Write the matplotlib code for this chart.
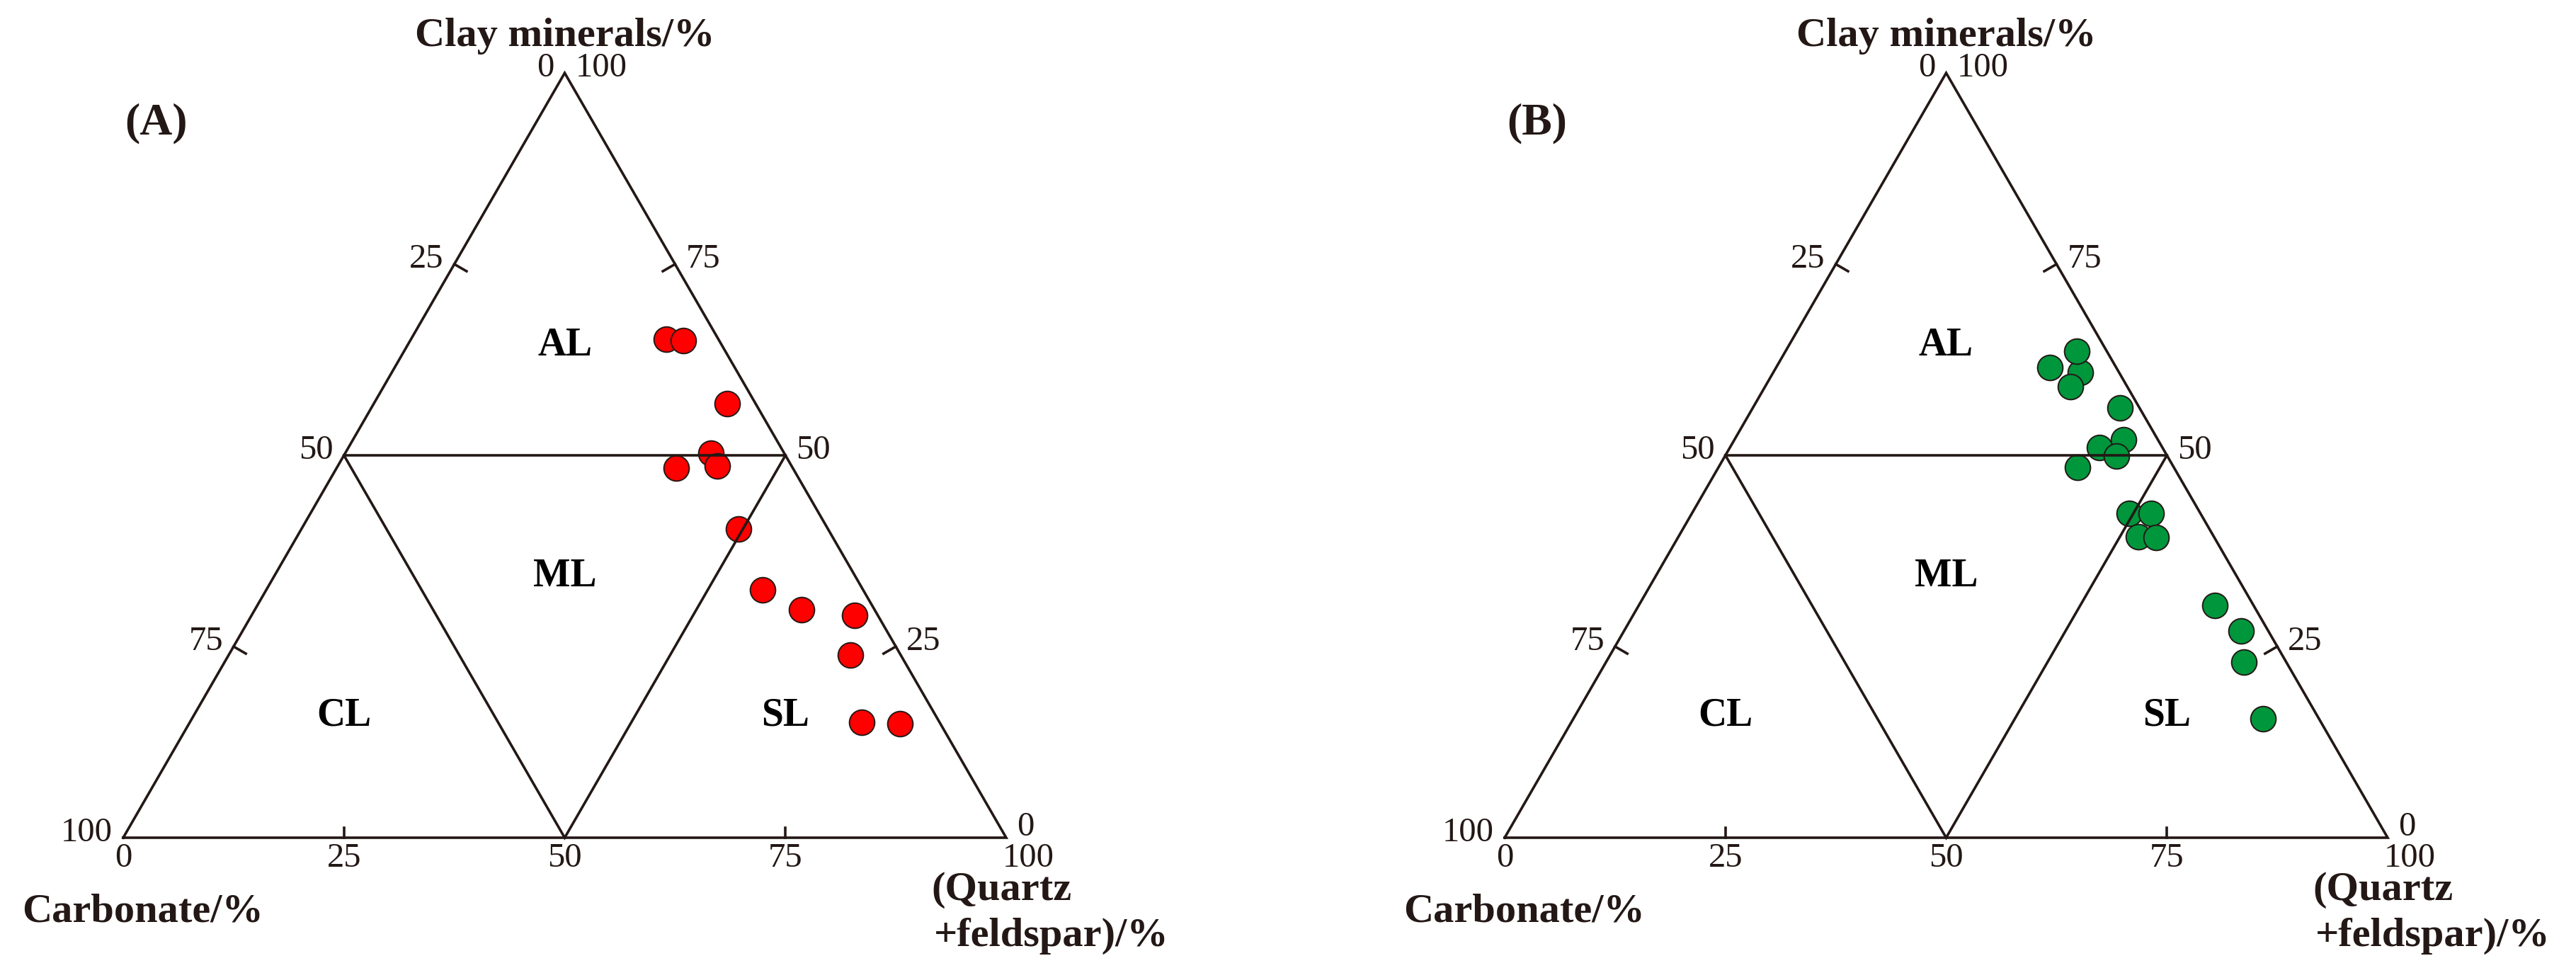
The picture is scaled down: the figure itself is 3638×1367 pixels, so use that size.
import matplotlib.pyplot as plt
import numpy as np

plt.rcParams['font.family'] = ['Liberation Serif', 'DejaVu Serif']

# (A) red samples: clay minerals / (quartz+feldspar), %; carbonate is the rest
clay_a = [65.2, 65.0, 56.8, 50.3, 48.3, 48.6, 40.4, 32.4, 29.8, 29.1, 23.9, 15.1, 14.9]
qf_a = [28.9, 30.9, 40.0, 41.4, 38.5, 43.0, 49.5, 56.2, 61.9, 68.3, 70.4, 76.1, 80.5]

# (B) green samples
clay_b = [60.8, 63.6, 61.5, 59.0, 56.2, 52.0, 51.0, 49.9, 48.4, 42.4, 42.4, 39.4, 39.3,
          30.4, 27.0, 23.0, 15.6]
qf_b = [34.8, 33.0, 31.0, 34.6, 41.6, 44.1, 41.9, 44.3, 40.7, 49.5, 52.0, 52.1, 54.1,
        65.2, 69.9, 72.2, 78.1]

tick_vals = [0, 25, 50, 75, 100]
region_names = ['AL', 'ML', 'CL', 'SL']
region_pos = [(0.5, 0.557), (0.5, 0.296), (0.25, 0.138), (0.75, 0.138)]

INK = '#231815'
H = np.sqrt(3) / 2
FW, FH = 3638, 1367
W = 1247      # triangle side in pixels
BASE = 1183   # triangle base, pixels from top
LW = 2.6


def to_xy(clay, qf):
    clay = np.asarray(clay, dtype=float) / 100.0
    qf = np.asarray(qf, dtype=float) / 100.0
    return qf + 0.5 * clay, H * clay


def panel(x0, xl, clay, qf, color, tag):
    ax = fig.add_axes([x0 / FW, 0, (FW / 2) / FW, 1])
    ax.set_xlim((x0 - xl) / W, (x0 + FW / 2 - xl) / W)
    ax.set_ylim(-(FH - BASE) / W, BASE / W)
    ax.axis('off')

    # frame + lithofacies division lines (drawn over the symbols)
    ax.plot([0, 1, 0.5, 0], [0, 0, H, 0], color=INK, lw=LW, zorder=3,
            solid_joinstyle='miter')
    ax.plot([0.25, 0.75], [H / 2, H / 2], color=INK, lw=LW, zorder=3)
    ax.plot([0.25, 0.5, 0.75], [H / 2, 0, H / 2], color=INK, lw=LW, zorder=3,
            solid_joinstyle='miter')

    x, y = to_xy(clay, qf)
    ax.scatter(x, y, s=660, c=color, edgecolors=INK, linewidths=1.4, zorder=2)

    tl = 0.016
    for v in tick_vals:
        # left side: carbonate
        px, py = 0.5 * (1 - v / 100), H * (1 - v / 100)
        ax.text(px - 0.012, py + 0.006, str(v), ha='right', va='center',
                fontsize=35, color=INK)
        # right side: clay minerals
        px, py = 1 - 0.5 * v / 100, H * v / 100
        ax.text(px + 0.012, py + (0.012 if v == 0 else 0.006), str(v),
                ha='left', va='center', fontsize=35, color=INK)
        # bottom: quartz + feldspar
        ax.text(v / 100 + (0.025 if v == 100 else 0), -0.023, str(v),
                ha='center', va='center', fontsize=35, color=INK)
        if v in (25, 75):
            px, py = 0.5 * (1 - v / 100), H * (1 - v / 100)
            ax.plot([px, px + tl * H], [py, py - tl * 0.5], color=INK, lw=LW, zorder=3)
            px, py = 1 - 0.5 * v / 100, H * v / 100
            ax.plot([px, px - tl * H], [py, py - tl * 0.5], color=INK, lw=LW, zorder=3)
            ax.plot([v / 100, v / 100], [0, tl * 0.7], color=INK, lw=LW, zorder=3)

    for name, (rx, ry) in zip(region_names, region_pos):
        ax.text(rx, ry, name, ha='center', va='center', fontsize=40,
                fontweight='bold', color='black')

    ax.text(0.5, 0.908, 'Clay minerals/%', ha='center', va='center',
            fontsize=42, fontweight='bold', color=INK)
    ax.text(0.037, 0.809, tag, ha='center', va='center', fontsize=46,
            fontweight='bold', color=INK)
    ax.text(-0.1145, -0.084, 'Carbonate/%', ha='left', va='center',
            fontsize=42, fontweight='bold', color=INK)
    ax.text(0.915, -0.059, '(Quartz', ha='left', va='center',
            fontsize=42, fontweight='bold', color=INK)
    ax.text(0.918, -0.111, '+feldspar)/%', ha='left', va='center',
            fontsize=42, fontweight='bold', color=INK)
    return ax


fig = plt.figure(figsize=(FW / 100, FH / 100), dpi=100)
panel(0, 174, clay_a, qf_a, '#ff0000', '(A)')
panel(FW / 2, 2125, clay_b, qf_b, '#00963c', '(B)')

fig.savefig('out.png', dpi=100, facecolor='white')
